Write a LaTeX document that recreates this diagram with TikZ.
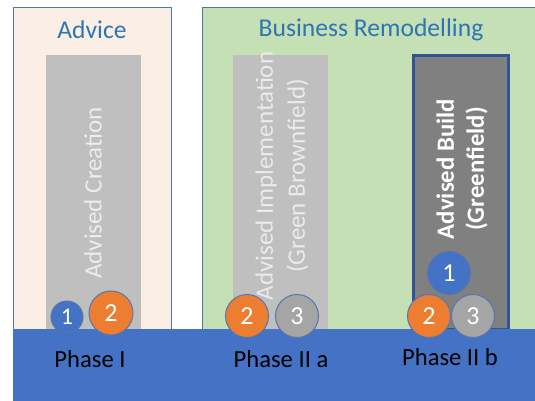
\documentclass[tikz,border=0pt]{standalone}
\usepackage{fontspec}
\setmainfont{Carlito}
\usetikzlibrary{positioning}
\definecolor{advicecolor}{RGB}{251,238,229}
\definecolor{remodelcolor}{RGB}{197,224,180}
\definecolor{phasecolor}{RGB}{68,114,196}
\definecolor{framecolor}{RGB}{84,116,172}
\definecolor{titlecolor}{RGB}{46,117,182}
\definecolor{stepblue}{RGB}{68,114,196}
\definecolor{steporange}{RGB}{237,125,49}
\definecolor{stepgray}{RGB}{165,165,165}
\definecolor{buildcolor}{RGB}{47,85,151}

\begin{document}
\begin{tikzpicture}[
    x=0.5pt, y=-0.5pt,
    area/.style={draw=framecolor, line width=0.5pt},
    title/.style={text=titlecolor, font=\fontsize{12.8}{15}\selectfont},
    lanetext/.style={rotate=90, align=center, text=black!7, font=\fontsize{12.5}{16}\selectfont},
    num/.style={circle, draw=buildcolor!80, line width=0.5pt, text=white, inner sep=0pt, minimum size=21.5pt, font=\fontsize{13}{15}\selectfont},
    phase/.style={font=\fontsize{12.3}{14}\selectfont}
]
    \useasboundingbox (0,0) rectangle (535,401);

    % Areas
    \filldraw[area, fill=advicecolor] (13,8) rectangle (171,340);
    \filldraw[area, fill=remodelcolor] (202,8) rectangle (540,340);
    \node[title] (advice) at (92,30) {Advice};
    \node[title] (remodel) at (371,30) {Business Remodelling};

    % Lanes
    \fill[black!25] (46,55) rectangle (141,329);
    \fill[black!25] (233,55) rectangle (328,329);
    \filldraw[fill=black!50, draw=buildcolor, line width=1.5pt] (413,56) rectangle (508,329);

    % Phase bar
    \fill[phasecolor] (13,329) rectangle (540,405);

    \node[lanetext] (creation) at (93,193) {Advised Creation};
    \node[lanetext, text=white!92!black] (implementation) at (282,176) {Advised Implementation\\(Green Brownfield)};
    \node[lanetext, text=white, font=\fontsize{12.4}{15}\selectfont\bfseries] (build) at (462,169) {Advised Build\\(Greenfield)};

    % Steps
    \node[num, fill=stepblue, minimum size=16pt, font=\fontsize{12}{14}\selectfont] (c1) at (67,317) {1};
    \node[num, fill=steporange, minimum size=22pt] (c2) at (111,313) {2};
    \node[num, fill=steporange] (i2) at (247,316) {2};
    \node[num, fill=stepgray] (i3) at (297,316) {3};
    \node[num, fill=stepblue] (b1) at (449,273) {1};
    \node[num, fill=steporange] (b2) at (429,316) {2};
    \node[num, fill=stepgray] (b3) at (473,316) {3};

    % Phases
    \node[phase] (p1) at (90,359) {Phase I};
    \node[phase] (p2a) at (281,359) {Phase II a};
    \node[phase] (p2b) at (450,357) {Phase II b};
\end{tikzpicture}
\end{document}
